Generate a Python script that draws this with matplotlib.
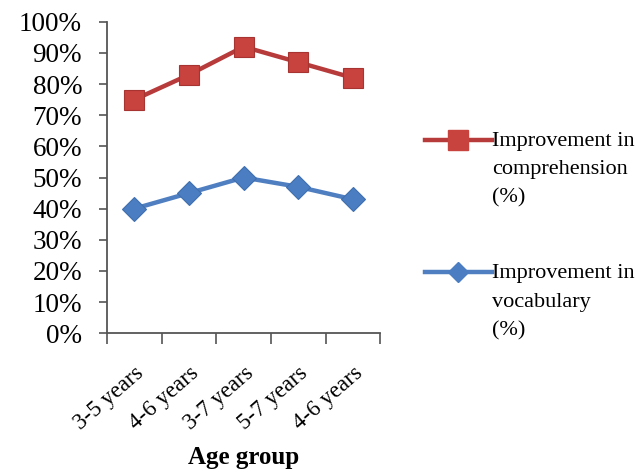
import numpy as np
import matplotlib.pyplot as plt
from matplotlib.lines import Line2D

# Data
age_groups = ['3-5 years', '4-6 years', '3-7 years', '5-7 years', '4-6 years']
comprehension = [75, 83, 92, 87, 82]
vocabulary = [40, 45, 50, 47, 43]
y_ticks = [0, 10, 20, 30, 40, 50, 60, 70, 80, 90, 100]

red_line = '#b83b3b'
red_face = '#c8423e'
blue_line = '#4f7fc1'
blue_face = '#4a7dc2'

plt.rcParams['font.family'] = ['Liberation Serif', 'DejaVu Serif']

fig = plt.figure(figsize=(6.37, 4.74), dpi=100)
ax = fig.add_axes([0.168, 0.297, 0.429, 0.657])

x = np.arange(len(age_groups))
ax.plot(x, comprehension, color=red_line, lw=3.2, marker='s', ms=15,
        mfc=red_face, mec='#a83432', mew=0.8, zorder=3)
ax.plot(x, vocabulary, color=blue_line, lw=3.2, marker='D', ms=12,
        mfc=blue_face, mec='#3f6fae', mew=0.8, zorder=3)

ax.set_xlim(-0.5, len(age_groups) - 0.5)
ax.set_ylim(0, 100)
ax.set_yticks(y_ticks)
ax.set_yticklabels([f'{v}%' for v in y_ticks], fontsize=19.5)

# category boundaries get tick marks, labels sit in between
ax.set_xticks(np.arange(-0.5, len(age_groups)))
ax.set_xticklabels([])
ax.set_xticks(x, minor=True)
ax.set_xticklabels(age_groups, minor=True, rotation=41, ha='right',
                   rotation_mode='anchor', fontsize=16.5)
ax.tick_params(axis='x', which='minor', length=0, pad=21)
ax.tick_params(axis='x', which='major', length=8, width=1.2, color='#555555', direction='out')
ax.tick_params(axis='y', length=6, width=1.2, color='#555555', pad=12)

for s in ['top', 'right']:
    ax.spines[s].set_visible(False)
for s in ['left', 'bottom']:
    ax.spines[s].set_color('#555555')
    ax.spines[s].set_linewidth(1.3)

fig.text(0.382, 0.01, 'Age group', ha='center', va='bottom',
         fontsize=18, fontweight='bold')

# legend drawn by hand so the key lines up with the first text line
entries = [
    ('Improvement in\ncomprehension\n(%)', red_line, 's', 14, red_face, 0.705),
    ('Improvement in\nvocabulary\n(%)', blue_line, 'D', 10, blue_face, 0.426),
]
for label, lc, mk, ms, mf, yy in entries:
    fig.add_artist(Line2D([0.667, 0.772], [yy, yy], transform=fig.transFigure,
                          color=lc, lw=3.2))
    fig.add_artist(Line2D([0.7185], [yy], transform=fig.transFigure,
                          marker=mk, ms=ms, mfc=mf, mec=mf, ls='none'))
    fig.text(0.772, yy + 0.016, label, ha='left', va='top', fontsize=16,
             linespacing=1.65)

fig.savefig('out.png', dpi=100)
